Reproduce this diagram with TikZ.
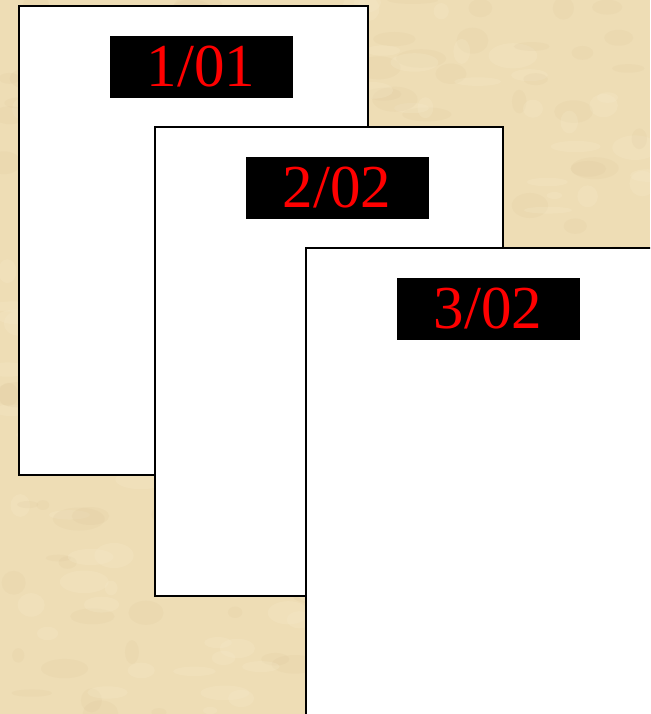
\documentclass[tikz,border=0pt]{standalone}
\usepackage{fontspec}
\setmainfont{Liberation Serif}
\definecolor{parchment}{HTML}{EEDDB5}
\definecolor{parchdark}{HTML}{D6BF92}
\definecolor{parchlight}{HTML}{F6EACB}
\tikzset{
  page/.style={draw=black, line width=1.3pt, fill=white},
  datelabel/.style={fill=black, text=red, minimum width=183pt, minimum height=62pt,
    inner sep=0pt, font=\fontsize{61}{61}\selectfont}
}
\begin{document}
\begin{tikzpicture}[x=1pt,y=-1pt]
  \useasboundingbox (0,0) rectangle (650,714);
  \clip (0,0) rectangle (650,714);
  \fill[parchment] (0,0) rectangle (650,714);
  % faint texture of the paper
  \pgfmathsetseed{7}
  \foreach \i in {1,...,220} {
    \fill[parchdark, opacity=0.12] (rnd*650,rnd*714) ellipse ({6+rnd*20} and {3+rnd*10});
    \fill[parchlight, opacity=0.25] (rnd*650,rnd*714) ellipse ({6+rnd*20} and {3+rnd*10});
  }
  % three stacked pages
  \draw[page] (19,6) rectangle (368,475);
  \node[datelabel] (lbla) at (201,67) {1/01};
  \draw[page] (155,127) rectangle (503,596);
  \node[datelabel] (lblb) at (337,188) {2/02};
  \draw[page] (306,248) rectangle (660,730);
  \node[datelabel] (lblc) at (488,309) {3/02};
\end{tikzpicture}
\end{document}
